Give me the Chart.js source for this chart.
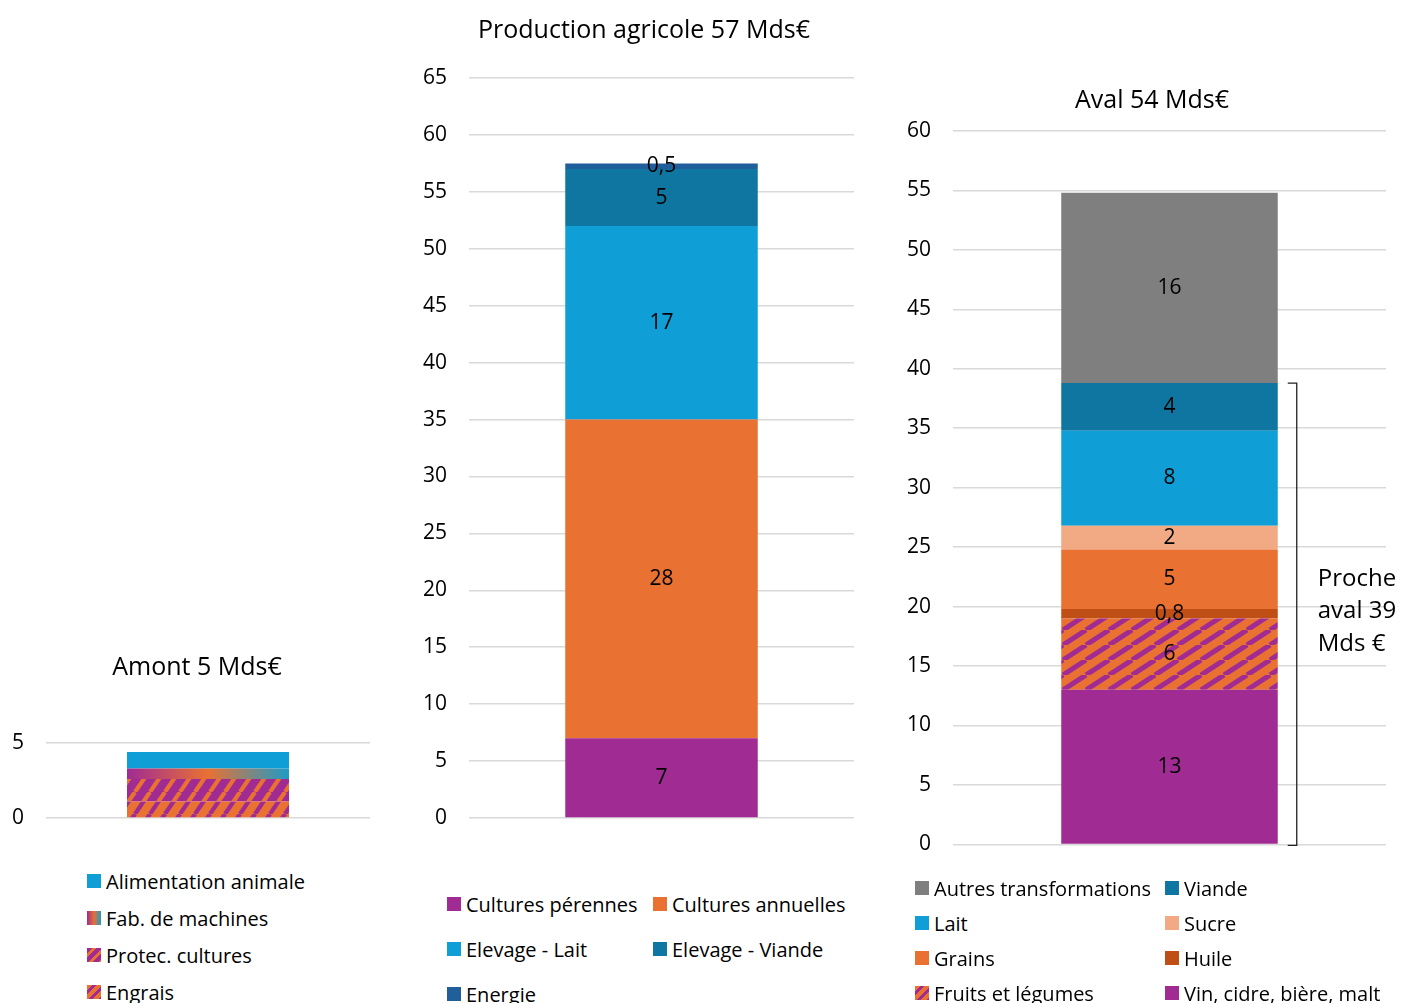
<!DOCTYPE html>
<html lang="fr">
<head>
<meta charset="utf-8">
<script src="https://cdn.jsdelivr.net/npm/chart.js@4.4.1/dist/chart.umd.min.js"></script>
<style>
  html, body { margin: 0; padding: 0; background: #fff; }
  body { width: 1402px; height: 1003px; position: relative; overflow: hidden; font-family: "Open Sans", "Noto Sans", sans-serif; color: #000; }
  .box { position: absolute; top: 0; }
  .titre { position: absolute; width: 400px; height: 30px; line-height: 30px; text-align: center; font-size: 25px; white-space: nowrap; }
  .item { position: absolute; height: 28px; display: flex; align-items: center; font-size: 20px; white-space: nowrap; }
  .sw { width: 14px; height: 14px; margin-right: 5px; flex: none; }
</style>
</head>
<body>
<div class="box" style="left:0;width:394px;height:860px"><canvas id="amont"></canvas></div>
<div class="box" style="left:410px;width:468px;height:860px"><canvas id="prod"></canvas></div>
<div class="box" style="left:902px;width:500px;height:879px"><canvas id="aval"></canvas></div>
<div class="titre" style="left:-3px;top:650px">Amont 5 Mds€</div>
<div class="titre" style="left:444px;top:13px">Production agricole 57 Mds€</div>
<div class="titre" style="left:952px;top:83px">Aval 54 Mds€</div>
<div id="legends"></div>
<script>
const FONT = '"Open Sans", "Noto Sans", sans-serif';

// couleurs
const violet = '#A02B93';
const orange = '#E97132';
const bleu = '#0F9ED5';
const bleuFonce = '#0E76A0';
const energie = '#215F9A';
const gris = '#7F7F7F';
const saumon = '#F2AA84';
const brique = '#C04F15';

// Amont (empilé de bas en haut)
const amontSeries = ['Engrais', 'Protec. cultures', 'Fab. de machines', 'Alimentation animale'];
const amontValues = [1.1, 1.5, 0.7, 1.1];

// Production agricole
const prodSeries = ['Cultures pérennes', 'Cultures annuelles', 'Elevage - Lait', 'Elevage - Viande', 'Energie'];
const prodValues = [7, 28, 17, 5, 0.5];

// Aval
const avalSeries = ['Vin, cidre, bière, malt', 'Fruits et légumes', 'Huile', 'Grains', 'Sucre', 'Lait', 'Viande', 'Autres transformations'];
const avalValues = [13, 6, 0.8, 5, 2, 8, 4, 16];
const procheAvalCount = 7; // les 7 premières séries = proche aval

// hachures diagonales (motif w x h, une rayure par tuile)
function stripes(bg, fg, w, h, width) {
  const c = document.createElement('canvas');
  c.width = w;
  c.height = h;
  const g = c.getContext('2d');
  g.fillStyle = bg;
  g.fillRect(0, 0, w, h);
  g.strokeStyle = fg;
  g.lineWidth = width;
  for (const k of [-1, 0, 1]) {
    g.beginPath();
    g.moveTo(k * w, h);
    g.lineTo(k * w + w, 0);
    g.stroke();
  }
  return g.createPattern(c, 'repeat');
}

function machinesGradient(ctx) {
  const a = ctx.chart.chartArea;
  if (!a) return violet;
  const w = a.right - a.left;
  const g = ctx.chart.ctx.createLinearGradient(a.left + w * 0.25, 0, a.left + w * 0.75, 0);
  g.addColorStop(0, violet);
  g.addColorStop(0.5, orange);
  g.addColorStop(1, '#1E9BC6');
  return g;
}

const amontColors = [stripes(orange, violet, 15, 22, 4.3), stripes(violet, orange, 15, 22, 4.3), machinesGradient, bleu];
const prodColors = [violet, orange, bleu, bleuFonce, energie];
const avalColors = [violet, stripes(orange, violet, 23, 15, 5), brique, orange, saumon, bleu, bleuFonce, gris];

const cssStripes = (bg, fg) => `repeating-linear-gradient(135deg, ${bg} 0 4px, ${fg} 4px 7px)`;
const amontSwatch = [cssStripes(orange, violet), cssStripes(violet, orange), `linear-gradient(to right, ${violet}, ${orange}, #1E9BC6)`, bleu];
const avalSwatch = [violet, cssStripes(orange, violet), brique, orange, saumon, bleu, bleuFonce, gris];

const fmt = v => String(v).replace('.', ',');

// valeurs au centre de chaque segment
const valueLabels = {
  id: 'valueLabels',
  afterDatasetsDraw(chart, args, opts) {
    if (!opts.show) return;
    const ctx = chart.ctx;
    ctx.save();
    ctx.font = '21px ' + FONT;
    ctx.fillStyle = '#000';
    ctx.textAlign = 'center';
    ctx.textBaseline = 'middle';
    chart.data.datasets.forEach((ds, i) => {
      const bar = chart.getDatasetMeta(i).data[0];
      ctx.fillText(fmt(ds.data[0]), bar.x, (bar.y + bar.base) / 2);
    });
    ctx.restore();
  }
};

// accolade "Proche aval"
const bracket = {
  id: 'bracket',
  afterDraw(chart) {
    const ctx = chart.ctx;
    const y = chart.scales.y;
    const vals = avalValues.slice(0, procheAvalCount);
    const sum = vals.reduce((a, b) => a + b, 0);
    const bar = chart.getDatasetMeta(0).data[0];
    const x = bar.x + bar.width / 2 + 19;
    const top = y.getPixelForValue(sum);
    const bot = y.getPixelForValue(0) + 1;
    ctx.save();
    ctx.strokeStyle = '#222';
    ctx.lineWidth = 1.3;
    ctx.beginPath();
    ctx.moveTo(x - 9, top);
    ctx.lineTo(x, top);
    ctx.lineTo(x, bot);
    ctx.lineTo(x - 9, bot);
    ctx.stroke();
    ctx.font = '24px ' + FONT;
    ctx.fillStyle = '#000';
    ctx.textBaseline = 'middle';
    const lines = ['Proche', 'aval ' + Math.round(sum), 'Mds €'];
    const mid = (top + bot) / 2 - 3;
    lines.forEach((t, i) => ctx.fillText(t, x + 21, mid + (i - 1) * 32.5));
    ctx.restore();
  }
};

function datasets(names, values, colors) {
  return names.map((n, i) => ({
    label: n,
    data: [values[i]],
    backgroundColor: colors[i],
    borderWidth: 0,
    barPercentage: 0.5,
    categoryPercentage: 1
  }));
}

function options(o) {
  return {
    responsive: true,
    maintainAspectRatio: false,
    animation: false,
    layout: { padding: { left: 0, top: o.padTop, right: o.padRight, bottom: o.padBottom } },
    plugins: {
      legend: { display: false },
      tooltip: { enabled: false },
      title: { display: false },
      valueLabels: { show: o.labels }
    },
    scales: {
      x: { stacked: true, display: false },
      y: {
        stacked: true,
        min: 0,
        max: o.max,
        afterFit: s => { s.width = o.yWidth; },
        border: { display: false },
        grid: { color: '#d9d9d9', lineWidth: 1.5, drawTicks: false },
        ticks: { stepSize: 5, padding: 22, color: '#000', font: { family: FONT, size: 21 } }
      }
    }
  };
}

new Chart(document.getElementById('amont'), {
  type: 'bar',
  data: { labels: [''], datasets: datasets(amontSeries, amontValues, amontColors) },
  options: options({ max: 5, yWidth: 46, padTop: 743, padRight: 24, padBottom: 42, labels: false }),
  plugins: [valueLabels]
});

new Chart(document.getElementById('prod'), {
  type: 'bar',
  data: { labels: [''], datasets: datasets(prodSeries, prodValues, prodColors) },
  options: options({ max: 65, yWidth: 59, padTop: 78, padRight: 24, padBottom: 42, labels: true }),
  plugins: [valueLabels]
});

new Chart(document.getElementById('aval'), {
  type: 'bar',
  data: { labels: [''], datasets: datasets(avalSeries, avalValues, avalColors) },
  options: options({ max: 60, yWidth: 51, padTop: 131, padRight: 16, padBottom: 16, labels: true }),
  plugins: [valueLabels, bracket]
});

// légendes HTML
const legendRoot = document.getElementById('legends');
function addLegend(names, swatches, cols, rows, order) {
  order.forEach((idx, k) => {
    const el = document.createElement('div');
    el.className = 'item';
    el.style.left = cols[k % cols.length] + 'px';
    el.style.top = (rows[Math.floor(k / cols.length)] - 14) + 'px';
    const sw = document.createElement('span');
    sw.className = 'sw';
    sw.style.background = swatches[idx];
    el.appendChild(sw);
    el.appendChild(document.createTextNode(names[idx]));
    legendRoot.appendChild(el);
  });
}
addLegend(amontSeries, amontSwatch, [87], [881, 918, 955, 992], [3, 2, 1, 0]);
addLegend(prodSeries, prodColors, [447, 653], [904, 949, 994], [0, 1, 2, 3, 4]);
addLegend(avalSeries, avalSwatch, [915, 1165], [888, 923, 958, 993], [7, 6, 5, 4, 3, 2, 1, 0]);
</script>
</body>
</html>
